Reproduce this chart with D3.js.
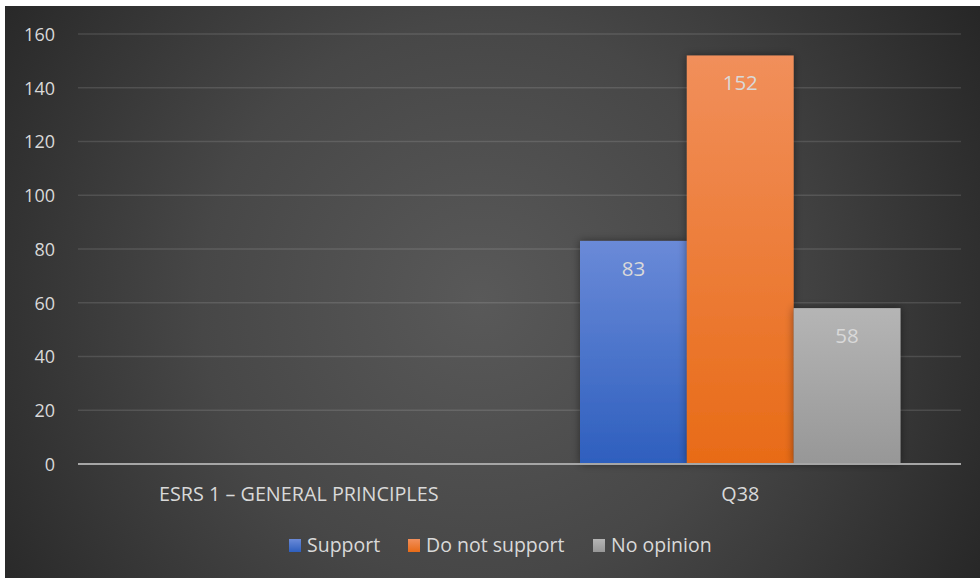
<!DOCTYPE html>
<html>
<head>
<meta charset="utf-8">
<script src="https://cdn.jsdelivr.net/npm/d3@7"></script>
<style>
  html, body { margin: 0; padding: 0; background: #ffffff; }
  svg { display: block; }
  text { font-family: "Open Sans", Lato, sans-serif; }
</style>
</head>
<body>
<svg id="chart" width="980" height="578"></svg>
<script>
// Survey responses per question group
const categories = ["ESRS 1 \u2013 GENERAL PRINCIPLES", "Q38"];
const seriesNames = ["Support", "Do not support", "No opinion"];
const support = [null, 83];
const doNotSupport = [null, 152];
const noOpinion = [null, 58];
const yTicks = [0, 20, 40, 60, 80, 100, 120, 140, 160];

const seriesValues = [support, doNotSupport, noOpinion];
const seriesColors = [
  { top: "#6a8ad8", bottom: "#2e5fbe" },
  { top: "#f18f5b", bottom: "#e86b17" },
  { top: "#b5b5b5", bottom: "#979797" }
];

const W = 980, H = 578;
const svg = d3.select("#chart");
const defs = svg.append("defs");

// Dark radial backdrop
const bg = defs.append("radialGradient").attr("id", "bg")
  .attr("gradientUnits", "userSpaceOnUse")
  .attr("cx", 480).attr("cy", 300).attr("r", 620);
bg.append("stop").attr("offset", "0").attr("stop-color", "#595959");
bg.append("stop").attr("offset", "0.45").attr("stop-color", "#474747");
bg.append("stop").attr("offset", "1").attr("stop-color", "#222222");

seriesColors.forEach((c, i) => {
  const g = defs.append("linearGradient").attr("id", "bar" + i)
    .attr("x1", 0).attr("y1", 0).attr("x2", 0).attr("y2", 1);
  g.append("stop").attr("offset", "0").attr("stop-color", c.top);
  g.append("stop").attr("offset", "1").attr("stop-color", c.bottom);
});

const shadow = defs.append("filter").attr("id", "shadow")
  .attr("x", "-20%").attr("y", "-20%").attr("width", "140%").attr("height", "140%");
shadow.append("feDropShadow").attr("dx", 0).attr("dy", 0)
  .attr("stdDeviation", 4).attr("flood-color", "#000").attr("flood-opacity", 0.45);

svg.append("rect").attr("x", 5).attr("y", 6)
  .attr("width", W - 5).attr("height", H - 6).attr("fill", "url(#bg)");

const plot = { left: 78, right: 961, top: 34, bottom: 464 };

const y = d3.scaleLinear().domain([0, 160]).range([plot.bottom, plot.top]);
const x0 = d3.scaleBand().domain(categories).range([plot.left, plot.right])
  .paddingInner(0).paddingOuter(0);
const groupPad = 60.5;
const x1 = d3.scaleBand().domain(seriesNames)
  .range([groupPad, x0.bandwidth() - groupPad]).padding(0);

// Gridlines
svg.append("g").selectAll("line").data(yTicks.filter(t => t > 0)).join("line")
  .attr("x1", plot.left).attr("x2", plot.right)
  .attr("y1", d => y(d)).attr("y2", d => y(d))
  .attr("stroke", "#ffffff").attr("stroke-opacity", 0.12).attr("stroke-width", 1.5);

// Y axis labels
const yAxis = svg.append("g").attr("transform", `translate(${plot.left - 23},0)`)
  .call(d3.axisLeft(y).tickValues(yTicks).tickSize(0).tickPadding(0));
yAxis.attr("font-family", null);
yAxis.select(".domain").remove();
yAxis.selectAll("text")
  .attr("fill", "#d9d9d9").attr("font-size", 18).attr("dy", "0.36em");

// Bars
const barsG = svg.append("g");
seriesValues.forEach((vals, si) => {
  const rows = categories.map((c, ci) => ({ c, v: vals[ci] })).filter(d => d.v != null);
  barsG.selectAll(null).data(rows).join("rect")
    .attr("x", d => x0(d.c) + x1(seriesNames[si]))
    .attr("y", d => y(d.v))
    .attr("width", x1.bandwidth())
    .attr("height", d => y(0) - y(d.v))
    .attr("fill", `url(#bar${si})`)
    .attr("filter", "url(#shadow)");
});

// Baseline
svg.append("line").attr("x1", plot.left).attr("x2", plot.right)
  .attr("y1", y(0)).attr("y2", y(0))
  .attr("stroke", "#a6a6a6").attr("stroke-width", 2);

// Value labels, inside the top of each bar
seriesValues.forEach((vals, si) => {
  const rows = categories.map((c, ci) => ({ c, v: vals[ci] })).filter(d => d.v != null);
  svg.append("g").selectAll("text").data(rows).join("text")
    .attr("x", d => x0(d.c) + x1(seriesNames[si]) + x1.bandwidth() / 2)
    .attr("y", d => y(d.v) + 27.5)
    .attr("dy", "0.36em")
    .attr("text-anchor", "middle")
    .attr("fill", "#d9d9d9").attr("font-size", 20.5)
    .text(d => d.v);
});

// Category labels
const xAxis = svg.append("g").attr("transform", `translate(0,${plot.bottom + 30})`)
  .call(d3.axisBottom(x0).tickSize(0).tickPadding(0));
xAxis.attr("font-family", null);
xAxis.select(".domain").remove();
xAxis.selectAll("text")
  .attr("fill", "#d9d9d9").attr("font-size", 19.8).attr("dy", "0.36em");

// Legend
const legendItems = [
  { name: seriesNames[0], sx: 289, tx: 307 },
  { name: seriesNames[1], sx: 408, tx: 426 },
  { name: seriesNames[2], sx: 593, tx: 611 }
];
const legend = svg.append("g");
legendItems.forEach((d, i) => {
  legend.append("rect").attr("x", d.sx).attr("y", 539)
    .attr("width", 12).attr("height", 13).attr("fill", `url(#bar${i})`);
  legend.append("text").attr("x", d.tx).attr("y", 545).attr("dy", "0.36em")
    .attr("fill", "#d9d9d9").attr("font-size", 19.5).text(d.name);
});
</script>
</body>
</html>
